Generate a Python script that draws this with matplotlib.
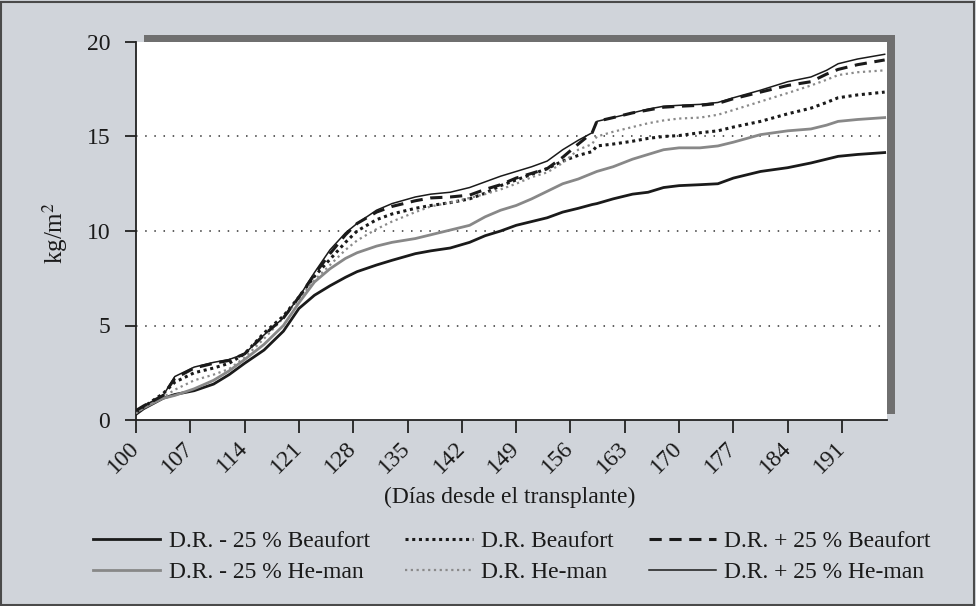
import numpy as np
import matplotlib
matplotlib.use("Agg")
import matplotlib.pyplot as plt
from matplotlib.patches import Rectangle

plt.rcParams['font.family'] = ['Liberation Serif', 'DejaVu Serif']
plt.rcParams['mathtext.fontset'] = 'stix'

# days after transplant
days = [100, 101, 103.5, 105, 107.5, 110, 112, 114, 116.5, 119, 121, 123, 125, 127,
        128.5, 131, 133, 136, 138, 140.5, 143, 145, 147, 149, 151, 153, 155, 157,
        158.8, 159.4, 161.5, 164, 166, 168, 170, 172.7, 175, 177, 180.5, 184, 187,
        189, 190.5, 193, 196.5]

beaufort_m25 = [0.3, 0.6, 1.15, 1.35, 1.55, 1.9, 2.4, 3.0, 3.7, 4.7, 5.9, 6.6, 7.1, 7.55,
                7.85, 8.2, 8.45, 8.8, 8.95, 9.1, 9.4, 9.75, 10.0, 10.3, 10.5, 10.7, 11.0, 11.2,
                11.4, 11.45, 11.7, 11.95, 12.05, 12.3, 12.4, 12.45, 12.5, 12.8, 13.15, 13.35, 13.6,
                13.8, 13.95, 14.05, 14.15]
heman_m25 = [0.4, 0.65, 1.15, 1.3, 1.65, 2.1, 2.6, 3.2, 4.0, 5.0, 6.2, 7.3, 8.0, 8.55,
             8.85, 9.2, 9.4, 9.6, 9.8, 10.05, 10.3, 10.75, 11.1, 11.35, 11.7, 12.1, 12.5, 12.75,
             13.05, 13.15, 13.4, 13.8, 14.05, 14.3, 14.4, 14.4, 14.5, 14.7, 15.1, 15.3, 15.4,
             15.6, 15.8, 15.9, 16.0]
beaufort = [0.4, 0.7, 1.4, 2.0, 2.5, 2.75, 3.0, 3.5, 4.6, 5.5, 6.5, 7.6, 8.5, 9.4,
            10.0, 10.6, 10.9, 11.2, 11.35, 11.5, 11.7, 12.0, 12.4, 12.7, 13.0, 13.3, 13.7, 14.0,
            14.2, 14.5, 14.6, 14.75, 14.9, 15.0, 15.05, 15.2, 15.3, 15.5, 15.8, 16.2, 16.5,
            16.8, 17.05, 17.2, 17.35]
heman = [0.35, 0.65, 1.2, 1.6, 2.1, 2.4, 2.7, 3.3, 4.3, 5.4, 6.4, 7.4, 8.2, 9.0,
         9.5, 10.1, 10.5, 11.0, 11.3, 11.5, 11.75, 11.95, 12.2, 12.5, 12.85, 13.1, 13.6, 14.3,
         14.6, 15.0, 15.25, 15.5, 15.7, 15.85, 15.95, 16.0, 16.15, 16.4, 16.85, 17.3, 17.7,
         18.0, 18.25, 18.4, 18.5]
beaufort_p25 = [0.5, 0.75, 1.3, 2.2, 2.75, 3.0, 3.15, 3.5, 4.5, 5.4, 6.5, 7.7, 8.8, 9.8,
                10.4, 11.0, 11.3, 11.6, 11.75, 11.8, 11.9, 12.2, 12.45, 12.8, 13.05, 13.3, 13.9, 14.6,
                15.2, 15.8, 16.0, 16.25, 16.4, 16.55, 16.6, 16.65, 16.75, 17.0, 17.35, 17.7, 17.9,
                18.3, 18.55, 18.8, 19.05]
heman_p25 = [0.5, 0.75, 1.3, 2.3, 2.8, 3.05, 3.2, 3.5, 4.5, 5.4, 6.5, 7.8, 9.0, 9.9,
             10.4, 11.1, 11.45, 11.8, 11.95, 12.05, 12.3, 12.6, 12.9, 13.15, 13.4, 13.7, 14.3, 14.8,
             15.2, 15.8, 16.0, 16.25, 16.45, 16.6, 16.65, 16.7, 16.8, 17.05, 17.45, 17.9, 18.15,
             18.5, 18.85, 19.1, 19.35]

W, H = 976, 606
fig = plt.figure(figsize=(W / 100, H / 100), dpi=100, facecolor='#d0d4da')

# outer frame of the panel
fig.patches.append(Rectangle((0.001, 0.002), 0.997, 0.995, transform=fig.transFigure,
                             fill=False, edgecolor='#4a4a4a', linewidth=1.5, zorder=-1))

ax_l, ax_b = 136 / W, 1 - 420 / H
ax_w, ax_h = (887 - 136) / W, (420 - 42) / H

# drop shadow behind the plot area
fig.patches.append(Rectangle((ax_l + 8 / W, ax_b + 6 / H), ax_w, ax_h + 1 / H,
                             transform=fig.transFigure, facecolor='#6f6f6f',
                             edgecolor='none', zorder=-1))

ax = fig.add_axes([ax_l, ax_b, ax_w, ax_h])
ax.set_zorder(2)
ax.set_facecolor('white')

for y in (5, 10, 15):
    ax.axhline(y, color='#333333', linestyle=(0, (1, 5)), linewidth=1.1, zorder=1)

ln_b_m25, = ax.plot(days, beaufort_m25, color='#1a1a1a', linewidth=2.0, zorder=3)
ln_h_m25, = ax.plot(days, heman_m25, color='#888888', linewidth=2.0, zorder=3)
ln_b, = ax.plot(days, beaufort, color='#1a1a1a', linestyle=(0, (1, 1.2)), linewidth=2.2, zorder=4)
ln_h, = ax.plot(days, heman, color='#8a8a8a', linestyle=(0, (1, 1.6)), linewidth=1.6, zorder=4)
ln_b_p25, = ax.plot(days, beaufort_p25, color='#1a1a1a', linestyle=(0, (4, 2.5)), linewidth=2.2, zorder=5)
ln_h_p25, = ax.plot(days, heman_p25, color='#1a1a1a', linewidth=1.1, zorder=5)

ax.set_xlim(100, 196.8)
ax.set_ylim(0, 20)
ax.set_xticks(np.arange(100, 192, 7))
ax.set_yticks(np.arange(0, 21, 5))
ax.tick_params(axis='both', direction='out', length=8, width=1.3, color='#222222',
               labelsize=17, labelcolor='#1a1a1a')
ax.tick_params(axis='y', pad=10.5)
ax.tick_params(axis='x', length=9, pad=9)
for lab in ax.get_xticklabels():
    lab.set_rotation(45)
    lab.set_ha('right')
    lab.set_va('center')
    lab.set_rotation_mode('anchor')

for side in ('top', 'right'):
    ax.spines[side].set_visible(False)
for side in ('left', 'bottom'):
    ax.spines[side].set_color('#222222')
    ax.spines[side].set_linewidth(1.3)

fig.text(55 / W, 1 - 233 / H, 'kg/m$^2$', rotation=90, ha='center', va='center',
         fontsize=18, color='#1a1a1a')
fig.text(510 / W, 1 - 497 / H, '(Días desde el transplante)', ha='center', va='center',
         fontsize=17, color='#1a1a1a')

handles = [ln_b_m25, ln_h_m25, ln_b, ln_h, ln_b_p25, ln_h_p25]
labels = ['D.R. - 25 % Beaufort', 'D.R. - 25 % He-man',
          'D.R. Beaufort', 'D.R. He-man',
          'D.R. + 25 % Beaufort', 'D.R. + 25 % He-man']
fig.legend(handles, labels, ncol=3, loc='center', bbox_to_anchor=(512 / W, 1 - 557 / H),
           frameon=False, fontsize=17, handlelength=2.85, handletextpad=0.35,
           columnspacing=1.5, labelspacing=0.42, labelcolor='#1a1a1a')

fig.savefig('out.png', dpi=100, facecolor=fig.get_facecolor())
